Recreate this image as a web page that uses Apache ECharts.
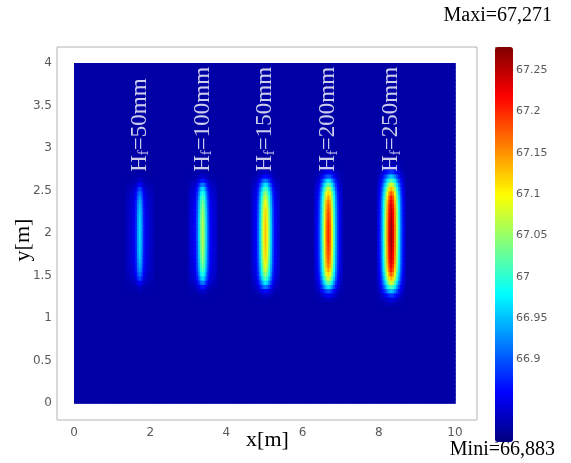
<!DOCTYPE html>
<html><head><meta charset="utf-8">
<script src="https://cdn.jsdelivr.net/npm/echarts@6/dist/echarts.min.js"></script>
<style>html,body{margin:0;padding:0;background:#fff}#c{width:571px;height:463px}</style>
</head><body><div id="c"></div>
<script>
// ---- data ----
const xTickLabels = [0, 2, 4, 6, 8, 10];
const yTickLabels = [0, 0.5, 1, 1.5, 2, 2.5, 3, 3.5, 4];
const colorbarLabels = [66.9, 66.95, 67, 67.05, 67.1, 67.15, 67.2, 67.25];
const blobNames = ['50mm', '100mm', '150mm', '200mm', '250mm'];
const blobCenterX = [1.725, 3.375, 5.025, 6.675, 8.325];
const blobCenterY = 2.0;
const labelBaseY = 2.72;
const backgroundValue = 66.818;
// cross-section values at |dx| = 0, 0.05, ..., 0.35 m
const blobProfileX = [
  [66.963, 66.934, 66.877, 66.853, 66.843, 66.838, 66.833, 66.829],
  [67.063, 67.029, 66.958, 66.896, 66.862, 66.848, 66.843, 66.838],
  [67.130, 67.092, 67.025, 66.955, 66.894, 66.860, 66.846, 66.840],
  [67.200, 67.168, 67.092, 67.012, 66.940, 66.884, 66.855, 66.842],
  [67.266, 67.232, 67.159, 67.068, 66.991, 66.920, 66.872, 66.848]
];
// lengthwise factors at |dy| = 0.025, 0.075, ... m
const blobProfileY = [
  [1, 1, 0.99, 0.98, 0.96, 0.94, 0.9, 0.85, 0.78, 0.68, 0.52, 0.3, 0.12, 0.04],
  [1, 1, 0.99, 0.98, 0.96, 0.94, 0.91, 0.87, 0.81, 0.72, 0.6, 0.42, 0.22, 0.08, 0.02],
  [1, 1, 0.99, 0.98, 0.97, 0.95, 0.92, 0.88, 0.83, 0.75, 0.64, 0.5, 0.32, 0.15, 0.05, 0.01],
  [1, 1, 0.99, 0.98, 0.97, 0.95, 0.93, 0.9, 0.85, 0.78, 0.68, 0.55, 0.4, 0.22, 0.1, 0.03],
  [1, 1, 0.99, 0.98, 0.97, 0.96, 0.94, 0.91, 0.87, 0.8, 0.71, 0.59, 0.45, 0.3, 0.15, 0.06, 0.02]
];
const colorMin = 66.80, colorMax = 67.278;
const maxiText = 'Maxi=67,271', miniText = 'Mini=66,883';
const jetColors = ['#00007f', '#0000ff', '#007fff', '#00ffff', '#7fff7f', '#ffff00', '#ff7f00', '#ff0000', '#7f0000'];

// ---- build field cells ----
const step = 0.05, nx = 200, ny = 80;
const cells = [];
for (let j = 0; j < ny; j++) {
  const y = j * step + step / 2;
  const dyIdx = Math.round((Math.abs(y - blobCenterY) - step / 2) / step);
  for (let i = 0; i < nx; i++) {
    const x = i * step + step / 2;
    let v = backgroundValue;
    for (let b = 0; b < blobCenterX.length; b++) {
      const dxIdx = Math.round(Math.abs(x - blobCenterX[b]) / step);
      if (dxIdx < blobProfileX[b].length && dyIdx < blobProfileY[b].length) {
        v = backgroundValue + (blobProfileX[b][dxIdx] - backgroundValue) * blobProfileY[b][dyIdx];
      }
    }
    cells.push([x, y, v]);
  }
}
const labelData = blobNames.map((n, b) => [blobCenterX[b], labelBaseY, n]);

const tickFont = { fontFamily: 'DejaVu Sans', fontSize: 12, color: '#5a5a5a' };
const chart = echarts.init(document.getElementById('c'), null, { renderer: 'canvas' });
chart.setOption({
  animation: false,
  backgroundColor: '#fff',
  grid: [
    { left: 74, top: 63, width: 381, height: 340, outerBoundsMode: 'none' },
    { left: 57, top: 47, width: 420, height: 373, show: true, borderColor: '#b4b4b4', borderWidth: 1, backgroundColor: 'transparent', outerBoundsMode: 'none' },
    { left: 495, top: 47, width: 18, height: 395, outerBoundsMode: 'none' }
  ],
  xAxis: [
    { type: 'value', gridIndex: 0, min: 0, max: 10, interval: 2,
      axisLine: { show: false }, axisTick: { show: false }, splitLine: { show: false },
      axisLabel: Object.assign({ margin: 24, formatter: v => xTickLabels.includes(v) ? String(v) : '' }, tickFont),
      name: 'x[m]', nameLocation: 'middle', nameGap: 26, nameMoveOverlap: false,
      nameTextStyle: { fontFamily: 'Liberation Serif', fontSize: 22, color: '#000', padding: [0, 0, 0, 6] } },
    { type: 'value', gridIndex: 1, show: false },
    { type: 'value', gridIndex: 2, show: false }
  ],
  yAxis: [
    { type: 'value', gridIndex: 0, min: 0, max: 4, interval: 0.5,
      axisLine: { show: false }, axisTick: { show: false }, splitLine: { show: false },
      axisLabel: Object.assign({ margin: 22, formatter: v => yTickLabels.some(t => Math.abs(t - v) < 1e-6) ? String(v) : '' }, tickFont),
      name: 'y[m]', nameLocation: 'middle', nameGap: 40, nameRotate: 90, nameMoveOverlap: false,
      nameTextStyle: { fontFamily: 'Liberation Serif', fontSize: 22, color: '#000', padding: [0, 14, 0, 0] } },
    { type: 'value', gridIndex: 1, show: false },
    { type: 'value', gridIndex: 2, position: 'right', min: colorMin, max: colorMax, interval: 0.05,
      axisLine: { show: false }, splitLine: { show: false },
      axisTick: { show: true, inside: false, length: 3, lineStyle: { color: '#888' } },
      axisLabel: { margin: 3, fontFamily: 'DejaVu Sans', fontSize: 11, color: '#5a5a5a',
                   formatter: v => { const t = colorbarLabels.find(c => Math.abs(c - v) < 1e-6); return t === undefined ? '' : String(t); } } }
  ],
  visualMap: {
    type: 'continuous', seriesIndex: 0, dimension: 2, min: colorMin, max: colorMax,
    calculable: false, realtime: false, hoverLink: false,
    left: 495, top: 47, itemWidth: 18, itemHeight: 395, padding: 0,
    text: null, showLabel: false,
    inRange: { color: jetColors }
  },
  series: [
    { type: 'custom', xAxisIndex: 0, yAxisIndex: 0, data: cells, progressive: 0, silent: true,
      encode: { x: 0, y: 1 },
      renderItem: (params, api) => {
        const x = api.value(0), y = api.value(1);
        const p0 = api.coord([x - step / 2, y + step / 2]);
        const p1 = api.coord([x + step / 2, y - step / 2]);
        return { type: 'rect',
          shape: { x: p0[0], y: p0[1], width: p1[0] - p0[0] + 0.8, height: p1[1] - p0[1] + 0.8 },
          style: { fill: api.visual('color') } };
      } },
    { type: 'scatter', xAxisIndex: 0, yAxisIndex: 0, data: labelData, symbolSize: 0, silent: true,
      label: { show: true, position: [0, 0], rotate: 90, align: 'left', verticalAlign: 'middle',
        formatter: p => '{h|H}{s|f}{h|=' + p.data[2] + '}',
        rich: {
          h: { fontFamily: 'Liberation Serif', fontSize: 23, color: '#fff', lineHeight: 24 },
          s: { fontFamily: 'Liberation Serif', fontSize: 15, color: '#fff', verticalAlign: 'bottom', lineHeight: 24 }
        } } }
  ],
  graphic: [
    { type: 'text', right: 19, top: 6, style: { text: maxiText, font: '20px "Liberation Serif"', fill: '#000' } },
    { type: 'text', right: 16, top: 440, style: { text: miniText, font: '20px "Liberation Serif"', fill: '#000' } }
  ]
});
</script></body></html>
